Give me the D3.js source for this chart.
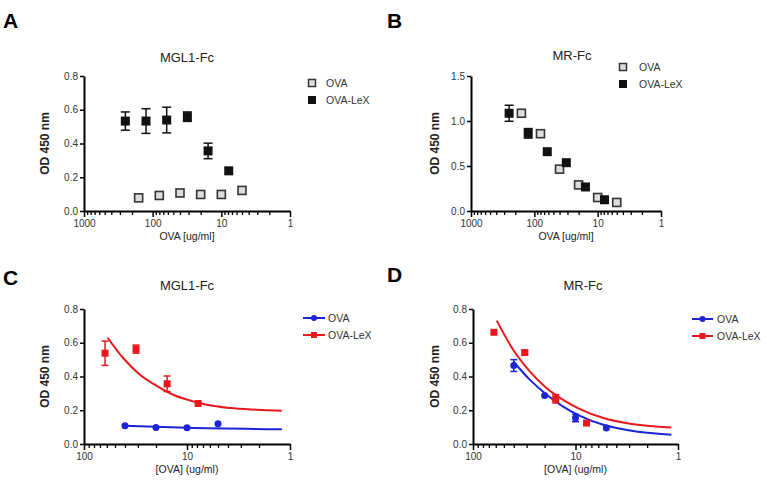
<!DOCTYPE html>
<meta charset="utf-8">
<script src="https://d3js.org/d3.v7.min.js"></script>
<style>
  body { margin: 0; background: #fff; }
  text { font-family: "Liberation Sans", Arial, sans-serif; }
</style>
<div id="chart"></div>
<script>

// concentrations (ug/ml)
var concLeX = [250, 125, 62.5, 31.25, 15.6, 7.8];
var concOva = [160, 80, 40, 20, 10, 5];
var concLeXFit = [62.5, 31.25, 15.6, 7.8];
var concOvaFit = [40, 20, 10, 5];

// panel A  (MGL1-Fc)
var aLeX    = [0.533, 0.533, 0.539, 0.559, 0.356, 0.238];
var aLeXErr = [0.054, 0.073, 0.076, 0.028, 0.046, 0];
var aOva    = [0.078, 0.092, 0.107, 0.098, 0.098, 0.122];

// panel B  (MR-Fc)
var bLeX    = [1.086, 0.863, 0.659, 0.537, 0.267, 0.125];
var bLeXErr = [0.089, 0.053, 0, 0, 0, 0];
var bOva    = [1.086, 0.859, 0.465, 0.290, 0.150, 0.095];

// panel C  (MGL1-Fc, fitted)
var cLeX    = [0.538, 0.562, 0.357, 0.240];
var cLeXErr = [0.072, 0.024, 0.046, 0];
var cOva    = [0.108, 0.098, 0.096, 0.120];
var cLeXCurveX = [59, 41.5, 28.6, 19.7, 13.6, 9.35, 6.44, 3.83, 2.1, 1.2];
var cLeXCurveY = [0.630, 0.508, 0.410, 0.345, 0.292, 0.258, 0.232, 0.213, 0.203, 0.197];
var cOvaCurveX = [40.6, 10, 1.2];
var cOvaCurveY = [0.108, 0.096, 0.088];

// panel D  (MR-Fc, fitted)
var dLeX    = [0.662, 0.542, 0.268, 0.124];
var dLeXErr = [0, 0.012, 0.025, 0];
var dOva    = [0.465, 0.287, 0.154, 0.095];
var dOvaErr = [0.035, 0, 0.022, 0];
var dLeXCurveX = [58.7, 40.4, 27.8, 19.1, 13.2, 9.04, 5.35, 2.94, 1.16];
var dLeXCurveY = [0.731, 0.557, 0.429, 0.331, 0.262, 0.207, 0.154, 0.120, 0.098];
var dOvaCurveX = [40.4, 27.8, 19.1, 13.2, 9.04, 5.35, 2.94, 1.16];
var dOvaCurveY = [0.489, 0.380, 0.292, 0.222, 0.167, 0.114, 0.080, 0.055];

var seriesNames = ["OVA", "OVA-LeX"];

var BLUE = "#1b24d6", RED = "#e8181d";

var svg = d3.select("#chart").append("svg")
  .attr("width", 767).attr("height", 481);

function zip(xs, ys, es) {
  return xs.map(function(x, i) { return {x: x, y: ys[i], e: es ? es[i] : 0}; });
}

function makePanel(p) {
  var x = d3.scaleLog().domain(p.xdom).range([p.left, p.right]);
  var y = d3.scaleLinear().domain(p.ydom).range([p.bottom, p.top]);
  var g = svg.append("g");

  // panel letter
  svg.append("text").attr("x", p.letterX).attr("y", p.letterY)
    .style("font-size", "21px").style("font-weight", "bold").text(p.letter);
  // title
  svg.append("text").attr("x", p.titleX).attr("y", p.titleY)
    .attr("text-anchor", "middle").style("font-size", "13px").attr("fill", "#222")
    .text(p.title);

  // minor x ticks
  var majors = [], minors = [];
  var lo = Math.log10(p.xdom[1]), hi = Math.log10(p.xdom[0]);
  for (var k = lo; k <= hi; k++) {
    majors.push(Math.pow(10, k));
    if (k < hi) for (var m = 2; m <= 9; m++) minors.push(m * Math.pow(10, k));
  }
  g.append("g").attr("transform", "translate(0," + p.bottom + ")")
    .call(d3.axisBottom(x).tickValues(minors).tickSize(4).tickFormat(""))
    .call(function(s) { s.select(".domain").remove(); s.selectAll("line").attr("stroke-width", 1.3); });
  var xa = g.append("g").attr("transform", "translate(0," + p.bottom + ")")
    .call(d3.axisBottom(x).tickValues(majors).tickSize(6).tickSizeOuter(0).tickPadding(3)
      .tickFormat(d3.format("d")));
  xa.select(".domain").attr("stroke-width", 2);
  xa.selectAll("line").attr("stroke-width", 1.5);
  xa.selectAll("text").style("font-size", "10px").attr("fill", "#333");

  var ya = g.append("g").attr("transform", "translate(" + p.left + ",0)")
    .call(d3.axisLeft(y).tickValues(p.yticks).tickSize(4).tickSizeOuter(0).tickPadding(2)
      .tickFormat(d3.format(".1f")));
  ya.select(".domain").attr("stroke-width", 2);
  ya.selectAll("line").attr("stroke-width", 1.5);
  ya.selectAll("text").style("font-size", "10px").attr("fill", "#333");

  // axis labels
  g.append("text").attr("transform", "translate(" + p.ylabX + "," + ((p.top + p.bottom) / 2) + ") rotate(-90)")
    .attr("text-anchor", "middle").style("font-size", "12px").style("font-weight", "bold")
    .attr("fill", "#222").text("OD 450 nm");
  g.append("text").attr("x", (p.left + p.right) / 2).attr("y", p.bottom + 29)
    .attr("text-anchor", "middle").style("font-size", "10.5px").attr("fill", "#222").text(p.xlabel);

  return {x: x, y: y, g: g};
}

function errorBars(P, data, color, cap) {
  var eb = P.g.append("g").attr("stroke", color).attr("stroke-width", 1.5);
  data.filter(function(d) { return d.e > 0; }).forEach(function(d) {
    var cx = P.x(d.x);
    eb.append("line").attr("x1", cx).attr("x2", cx).attr("y1", P.y(d.y - d.e)).attr("y2", P.y(d.y + d.e));
    [d.y - d.e, d.y + d.e].forEach(function(v) {
      eb.append("line").attr("x1", cx - cap).attr("x2", cx + cap).attr("y1", P.y(v)).attr("y2", P.y(v));
    });
  });
}

function squares(P, data, size, fill, stroke) {
  P.g.append("g").selectAll("rect").data(data).join("rect")
    .attr("x", function(d) { return P.x(d.x) - size / 2; })
    .attr("y", function(d) { return P.y(d.y) - size / 2; })
    .attr("width", size).attr("height", size)
    .attr("fill", fill).attr("stroke", stroke).attr("stroke-width", stroke === "none" ? 0 : 1.6);
}

function dots(P, data, r, color) {
  P.g.append("g").selectAll("circle").data(data).join("circle")
    .attr("cx", function(d) { return P.x(d.x); }).attr("cy", function(d) { return P.y(d.y); })
    .attr("r", r).attr("fill", color);
}

function curve(P, xs, ys, color) {
  var line = d3.line().x(function(d) { return P.x(d.x); }).y(function(d) { return P.y(d.y); })
    .curve(d3.curveMonotoneX);
  P.g.append("path").datum(zip(xs, ys).sort(function(a, b) { return P.x(a.x) - P.x(b.x); }))
    .attr("d", line).attr("fill", "none").attr("stroke", color).attr("stroke-width", 2);
}

function legendSquares(lx, ly, tx) {
  var lg = svg.append("g");
  lg.append("rect").attr("x", lx - 3.5).attr("y", ly - 3.5).attr("width", 7).attr("height", 7)
    .attr("fill", "#ddd").attr("stroke", "#333").attr("stroke-width", 1.5);
  lg.append("rect").attr("x", lx - 4).attr("y", ly + 17 - 4).attr("width", 8).attr("height", 8).attr("fill", "#111");
  seriesNames.forEach(function(n, i) {
    lg.append("text").attr("x", tx).attr("y", ly + i * 17 + 4).style("font-size", "10.5px").attr("fill", "#333").text(n);
  });
}

function legendLines(lx0, lx1, ly, tx) {
  var lg = svg.append("g");
  var cx = (lx0 + lx1) / 2;
  [BLUE, RED].forEach(function(c, i) {
    var yy = ly + i * 17;
    lg.append("line").attr("x1", lx0).attr("x2", lx1).attr("y1", yy).attr("y2", yy)
      .attr("stroke", c).attr("stroke-width", 2);
    if (i === 0) lg.append("circle").attr("cx", cx).attr("cy", yy).attr("r", 3).attr("fill", c);
    else lg.append("rect").attr("x", cx - 3).attr("y", yy - 3).attr("width", 6).attr("height", 6).attr("fill", c);
    lg.append("text").attr("x", tx).attr("y", yy + 4).style("font-size", "10.5px").attr("fill", "#333").text(seriesNames[i]);
  });
}

// ---- Panel A
var A = makePanel({left: 84, right: 290, top: 76, bottom: 211, xdom: [1000, 1], ydom: [0, 0.8],
  yticks: [0, 0.2, 0.4, 0.6, 0.8], letter: "A", letterX: 3, letterY: 28, title: "MGL1-Fc",
  titleX: 187, titleY: 62, ylabX: 49, xlabel: "OVA [ug/ml]"});
errorBars(A, zip(concLeX, aLeX, aLeXErr), "#111", 4.5);
squares(A, zip(concOva, aOva), 8, "#ddd", "#333");
squares(A, zip(concLeX, aLeX), 9, "#111", "none");
legendSquares(312, 83, 326);

// ---- Panel B
var B = makePanel({left: 471, right: 661, top: 76, bottom: 211, xdom: [1000, 1], ydom: [0, 1.5],
  yticks: [0, 0.5, 1.0, 1.5], letter: "B", letterX: 387, letterY: 28, title: "MR-Fc",
  titleX: 572, titleY: 60, ylabX: 439, xlabel: "OVA [ug/ml]"});
errorBars(B, zip(concLeX, bLeX, bLeXErr), "#111", 4.5);
squares(B, zip(concOva, bOva), 8, "#ddd", "#333");
squares(B, zip(concLeX, bLeX), 9, "#111", "none");
legendSquares(623, 67, 639);

// ---- Panel C
var C = makePanel({left: 84, right: 290, top: 309, bottom: 444, xdom: [100, 1], ydom: [0, 0.8],
  yticks: [0, 0.2, 0.4, 0.6, 0.8], letter: "C", letterX: 3, letterY: 285, title: "MGL1-Fc",
  titleX: 187, titleY: 290, ylabX: 49, xlabel: "[OVA] (ug/ml)"});
curve(C, cLeXCurveX, cLeXCurveY, RED);
curve(C, cOvaCurveX, cOvaCurveY, BLUE);
errorBars(C, zip(concLeXFit, cLeX, cLeXErr), RED, 3.5);
squares(C, zip(concLeXFit, cLeX), 7, RED, "none");
dots(C, zip(concOvaFit, cOva), 3.5, BLUE);
legendLines(303, 325, 318, 328);

// ---- Panel D
var D = makePanel({left: 473, right: 678, top: 309, bottom: 444, xdom: [100, 1], ydom: [0, 0.8],
  yticks: [0, 0.2, 0.4, 0.6, 0.8], letter: "D", letterX: 387, letterY: 282, title: "MR-Fc",
  titleX: 583, titleY: 290, ylabX: 439, xlabel: "[OVA] (ug/ml)"});
curve(D, dLeXCurveX, dLeXCurveY, RED);
curve(D, dOvaCurveX, dOvaCurveY, BLUE);
errorBars(D, zip(concLeXFit, dLeX, dLeXErr), RED, 3.5);
errorBars(D, zip(concOvaFit, dOva, dOvaErr), BLUE, 3.5);
squares(D, zip(concLeXFit, dLeX), 7, RED, "none");
dots(D, zip(concOvaFit, dOva), 3.5, BLUE);
legendLines(692, 713, 319, 717);

</script>
